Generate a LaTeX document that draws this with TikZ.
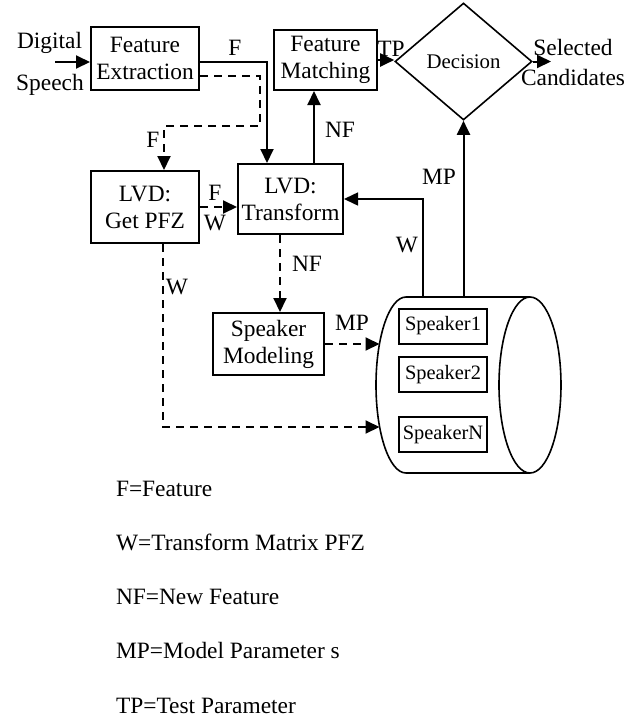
\documentclass[tikz,border=0pt]{standalone}
\usepackage{fontspec}
\setmainfont{Liberation Serif}
\usetikzlibrary{arrows.meta,shapes.geometric}

\begin{document}
\begin{tikzpicture}[x=0.5pt, y=-0.5pt,
    font=\fontsize{11.7}{13.5}\selectfont,
    line width=1pt,
    >={Triangle[length=7pt,width=6.5pt]},
    box/.style={draw, align=center, inner sep=0pt},
    dbox/.style={draw, inner sep=0pt, minimum width=44pt, minimum height=17.5pt, font=\fontsize{10.2}{12}\selectfont},
    dline/.style={dash pattern=on 4pt off 3pt},
    lbl/.style={inner sep=0pt}]
  \useasboundingbox (0, 0) rectangle (639, 719);

  \node [box, minimum width=54pt, minimum height=31.5pt] (fe) at (145, 58.5) {Feature\\Extraction};
  \node [box, minimum width=51.5pt, minimum height=30pt] (fm) at (325.5, 60) {Feature\\Matching};
  \node [draw, diamond, aspect=1.17, minimum width=68.5pt, minimum height=58.5pt, inner sep=0pt,
         line width=0.8pt, font=\fontsize{10.4}{12}\selectfont] (dec) at (463.5, 61.5) {Decision};
  \node [box, minimum width=54pt, minimum height=36pt] (pfz) at (145, 207) {LVD:\\Get PFZ};
  \node [box, minimum width=52.5pt, minimum height=35pt] (lt) at (290.5, 199) {LVD:\\Transform};
  \node [box, minimum width=55.5pt, minimum height=31pt] (sm) at (268.5, 344) {Speaker\\Modeling};

  \draw [line width=0.8pt] (530, 297) -- (406, 297) arc [start angle=270, end angle=90, x radius=30, y radius=88] -- (530, 473);
  \draw [line width=0.8pt] (530, 385) ellipse [x radius=31, y radius=88];
  \node [minimum width=92.5pt, minimum height=88pt, inner sep=0pt] (db) at (468.5, 385) {};
  \foreach \n/\y in {1/326, 2/374.5, N/434.5}
    \node [dbox] (s\n) at (443, \y) {Speaker\n};

  \coordinate (sp) at (55, 62);
  \coordinate (out) at (551, 61.5);
  \coordinate (in1) at (379.5, 344);
  \coordinate (in2) at (379.5, 427);
  \coordinate (wtap) at (423, 297);

  \draw [->] (sp) -- (sp -| fe.west);
  \draw [->] ([yshift=-1.75pt]fe.east) -| ([xshift=-11.75pt]lt.north);
  \draw [->, dline] ([yshift=-8.75pt]fe.east) -- ++(60, 0) -- ++(0, 50) -| ([xshift=9.5pt]pfz.north);
  \draw [->, dline] (pfz.east) -- (pfz.east -| lt.west);
  \draw [->] ([xshift=11.75pt]lt.north) -- ([xshift=11.75pt]lt.north |- fm.south);
  \draw [->] (fm.east) -- (fm.east -| dec.west);
  \draw [->] (dec.east) -- (out);
  \draw [->, dline] ([xshift=-5.25pt]lt.south) -- ([xshift=-5.25pt]lt.south |- sm.north);
  \draw [->, dline] (sm.east) -- (in1);
  \draw [->, dline] ([xshift=9pt]pfz.south) |- (in2);
  \draw [->, line width=0.75pt] (wtap) |- (lt.east);
  \draw [->] (dec.south |- db.north) -- (dec.south);

  \node [lbl, anchor=base] at (49.5, 48) {Digital};
  \node [lbl, anchor=base] at (50, 90) {Speech};
  \node [lbl] at (235, 48) {F};
  \node [lbl] at (153, 140) {F};
  \node [lbl] at (215, 193) {F};
  \node [lbl] at (215, 223) {W};
  \node [lbl] at (340, 130) {NF};
  \node [lbl] at (391, 49) {TP};
  \node [lbl, align=center, font=\fontsize{11.7}{15}\selectfont] at (573, 62) {Selected\\Candidates};
  \node [lbl] at (439, 177) {MP};
  \node [lbl] at (407, 245) {W};
  \node [lbl] at (307, 264) {NF};
  \node [lbl] at (177, 287) {W};
  \node [lbl] at (352, 323) {MP};

  \foreach \t [count=\i from 0] in {F=Feature, W=Transform Matrix PFZ, NF=New Feature, MP=Model Parameter s, TP=Test Parameter}
    \node [lbl, anchor=base west] at (115, 496+54.25*\i) {\t};
\end{tikzpicture}
\end{document}
